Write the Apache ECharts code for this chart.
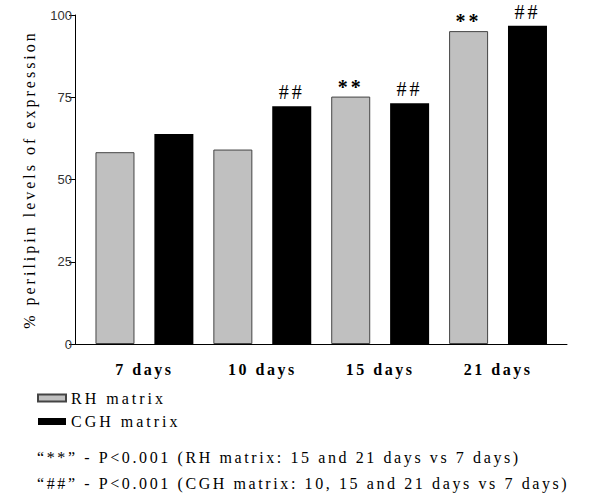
<!DOCTYPE html>
<html><head><meta charset="utf-8">
<script src="https://cdn.jsdelivr.net/npm/echarts@6/dist/echarts.min.js"></script>
<style>
html,body{margin:0;padding:0;background:#fff}
#c{width:600px;height:497px}
</style></head><body><div id="c"></div>
<script>
const categories = ['7 days', '10 days', '15 days', '21 days'];
const rhValues = [58.3, 59.1, 75.2, 95.1];
const cghValues = [63.8, 72.3, 73.2, 96.7];
const rhMarks = ['', '', '**', '**'];
const cghMarks = ['', '##', '##', '##'];
const seriesNames = ['RH matrix', 'CGH matrix'];
const yTitle = '% perilipin levels of expression';
const footnotes = [
  '\u201c**\u201d - P<0.001 (RH matrix: 15 and 21 days vs 7 days)',
  '\u201c##\u201d - P<0.001 (CGH matrix: 10, 15 and 21 days vs 7 days)'
];

const chart = echarts.init(document.getElementById('c'), null, {renderer: 'svg'});
chart.setOption({
  animation: false,
  backgroundColor: '#fff',
  grid: {left: 75, right: 33, top: 15, bottom: 153},
  xAxis: {
    type: 'value', min: -0.589, max: 3.585,
    axisLine: {show: true, onZero: false, lineStyle: {color: '#000', width: 1}},
    axisTick: {show: false},
    splitLine: {show: false},
    axisLabel: {
      customValues: categories.map((c, i) => i),
      formatter: v => categories[Math.round(v)],
      margin: 17, fontSize: 16, fontWeight: 'bold',
      fontFamily: 'Liberation Serif', color: '#000'
    }
  },
  yAxis: {
    type: 'value', min: 0, max: 100, interval: 25,
    axisLine: {show: true, onZero: false, lineStyle: {color: '#000', width: 1}},
    axisTick: {show: true, length: 6, lineStyle: {color: '#000'}},
    splitLine: {show: false},
    axisLabel: {margin: 3, fontSize: 13, fontFamily: 'Liberation Sans', color: '#333'},
    name: yTitle, nameLocation: 'middle', nameGap: 38,
    nameTextStyle: {fontSize: 16, fontFamily: 'Liberation Serif', color: '#000'}
  },
  legend: {
    data: seriesNames, orient: 'vertical', left: 37, top: 390,
    itemWidth: 28, itemHeight: 7, itemGap: 7.5, padding: 0, icon: 'rect',
    textStyle: {fontSize: 16, fontFamily: 'Liberation Serif', color: '#000'}
  },
  graphic: footnotes.map((t, i) => ({
    type: 'text', x: 37, y: 457 + i * 26,
    style: {text: t, font: '16px Liberation Serif', fill: '#000', textVerticalAlign: 'middle'}
  })),
  series: [
    {
      name: seriesNames[0], type: 'bar', barWidth: 39, barGap: '51%',
      data: rhValues.map((v, i) => [i, v]),
      itemStyle: {color: '#c0c0c0', borderColor: '#444', borderWidth: 1},
      label: {show: true, position: 'top', distance: 0, formatter: p => rhMarks[p.dataIndex],
        fontSize: 20, fontWeight: 'bold', fontFamily: 'Liberation Serif', color: '#000'}
    },
    {
      name: seriesNames[1], type: 'bar', barWidth: 39,
      data: cghValues.map((v, i) => [i, v]),
      itemStyle: {color: '#000'},
      label: {show: true, position: 'top', distance: 4, formatter: p => cghMarks[p.dataIndex],
        fontSize: 20, fontFamily: 'Liberation Serif', color: '#000'}
    }
  ]
});

// typographic letter spacing, as in the reference figure
function spacingFor(t) {
  if (t === yTitle) return 3;
  if (categories.includes(t)) return 2.5;
  if (seriesNames.includes(t)) return 3;
  if (footnotes.includes(t)) return 2.6;
  if (t === '**' || t === '##') return 3;
  return 0;
}
function applySpacing() {
  document.querySelectorAll('#c text').forEach(el => {
    const s = spacingFor(el.textContent);
    if (s) el.style.letterSpacing = s + 'px';
  });
}
applySpacing();
chart.on('finished', applySpacing);
</script></body></html>
